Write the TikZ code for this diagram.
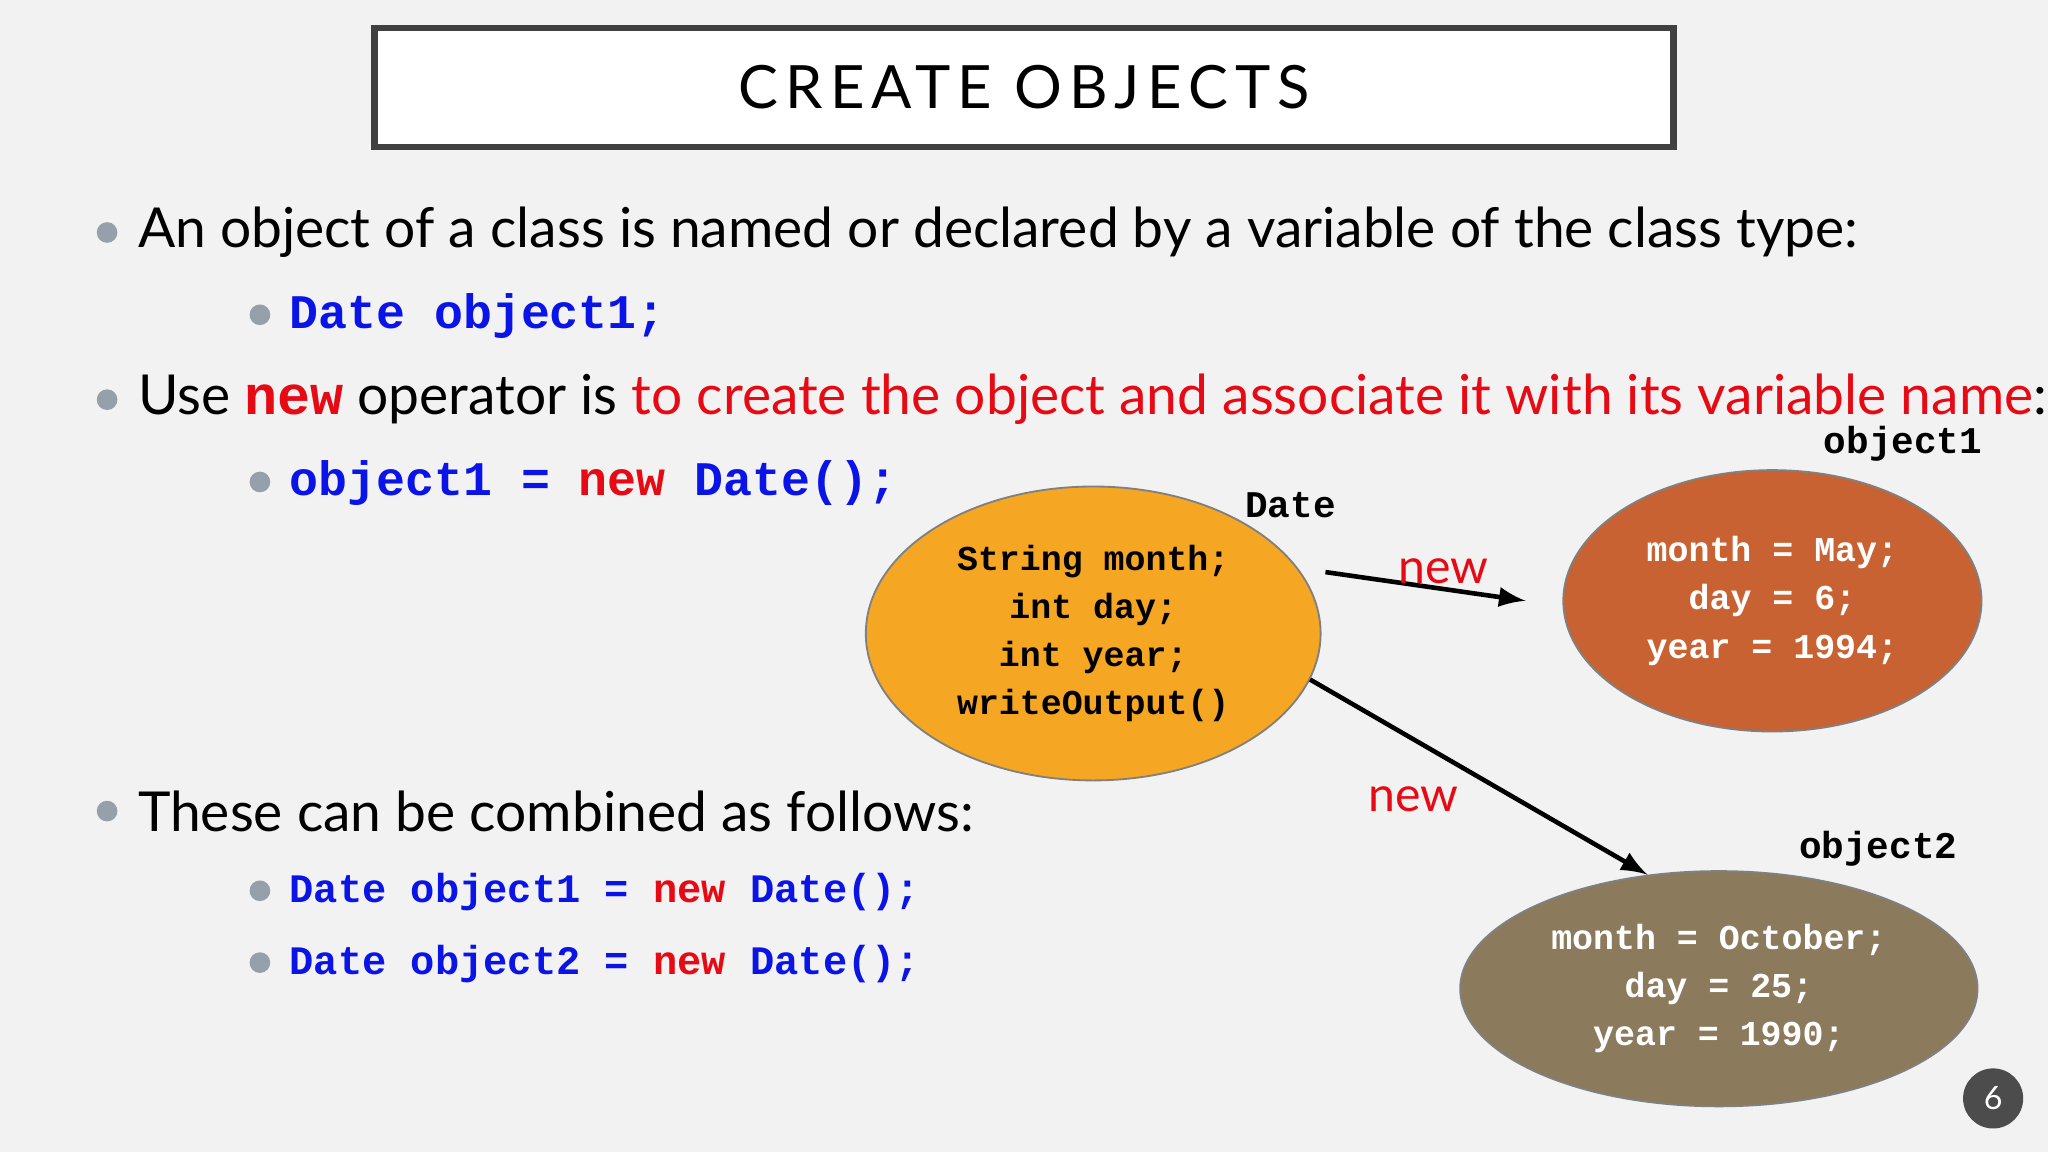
\documentclass[tikz,border=0pt]{standalone}
\usepackage{fontspec}
\setmainfont{Lato}
\setmonofont{Liberation Mono}
\usetikzlibrary{shapes.geometric}
\definecolor{codeblue}{RGB}{10,20,230}
\definecolor{codered}{RGB}{230,10,20}
\definecolor{bgray}{RGB}{242,242,242}
\definecolor{dotgray}{RGB}{150,160,170}
\definecolor{classorange}{RGB}{245,166,35}
\definecolor{objrust}{RGB}{200,98,50}
\definecolor{objolive}{RGB}{139,123,92}
\tikzset{
  bullet/.style={circle, fill=dotgray, inner sep=0pt, minimum size=4.5pt},
  body/.style={anchor=west, inner sep=0pt, font=\fontsize{12}{14}\selectfont},
  code/.style={anchor=west, inner sep=0pt, font=\fontsize{10.5}{12}\selectfont\ttfamily\bfseries},
  smallcode/.style={anchor=west, inner sep=0pt, font=\fontsize{8.8}{10}\selectfont\ttfamily\bfseries},
  blob/.style={ellipse, draw=black!50, line width=0.4pt, align=center,
    font=\fontsize{7.6}{10.5}\selectfont\ttfamily\bfseries},
  tag/.style={font=\fontsize{8.2}{10}\selectfont\ttfamily\bfseries},
  newlbl/.style={text=codered, font=\fontsize{10.5}{12}\selectfont},
}
\begin{document}
\begin{tikzpicture}[x=0.01cm,y=-0.01cm]
    \fill[bgray] (0,0) rectangle (1568,882);
    % title
    \node[draw=black!75, fill=white, line width=1.5pt, minimum width=9.94cm, minimum height=0.91cm]
        (title) at (784,67) {\fontsize{13}{15}\selectfont\addfontfeature{LetterSpace=12}CREATE OBJECTS};

    % bullet text
    \node[bullet] (b1) at (82,178) {};
    \node[body] (t1) at (105,178) {An object of a class is named or declared by a variable of the class type:};
    \node[bullet] (b2) at (199,241) {};
    \node[code, text=codeblue] (t2) at (221,242) {Date object1;};
    \node[bullet] (b3) at (82,306) {};
    \node[body] (t3) at (105,306) {Use \textcolor{codered}{\ttfamily\bfseries new} operator is \textcolor{codered}{to create the object and associate it with its variable name}:};
    \node[bullet] (b4) at (199,369) {};
    \node[code, text=codeblue] (t4) at (221,370) {object1 = \textcolor{codered}{new} Date();};
    \node[bullet] (b5) at (82,621) {};
    \node[body] (t5) at (105,621) {These can be combined as follows:};
    \node[bullet] (b6) at (199,682) {};
    \node[smallcode, text=codeblue] (t6) at (221,683) {Date object1 = \textcolor{codered}{new} Date();};
    \node[bullet] (b7) at (199,737) {};
    \node[smallcode, text=codeblue] (t7) at (221,738) {Date object2 = \textcolor{codered}{new} Date();};

    % class and objects
    \node[blob, fill=classorange, minimum width=3.48cm, minimum height=1.96cm] (date) at (837,485)
        {String month;\\int day;\\int year;\\writeOutput()};
    \node[tag] (datelbl) at (988,387) {Date};
    \node[blob, fill=objrust, text=white, minimum width=3.2cm, minimum height=2cm] (obj1) at (1357,460)
        {month = May;\\day = 6;\\year = 1994;};
    \node[tag] (obj1lbl) at (1457,340) {object1};
    \node[blob, fill=objolive, text=white, minimum width=3.78cm, minimum height=1.8cm] (obj2) at (1316,757)
        {month = October;\\day = 25;\\year = 1990;};
    \node[tag] (obj2lbl) at (1438,650) {object2};

    \draw[-latex, line width=1pt] (date.east |- obj1.west) ++(3,-22) coordinate (s1) (s1) -- ([xshift=-8pt]obj1.west);
    \draw[-latex, line width=1pt] (date.-12) -- (obj2.122);
    \node[newlbl] (new1) at (1105,437) {new};
    \node[newlbl] (new2) at (1082,612) {new};

    % page number
    \node[circle, fill=black!70, text=white, minimum size=0.46cm, inner sep=0pt, font=\fontsize{7}{8}\selectfont] (pg) at (1526,841) {6};
\end{tikzpicture}
\end{document}
